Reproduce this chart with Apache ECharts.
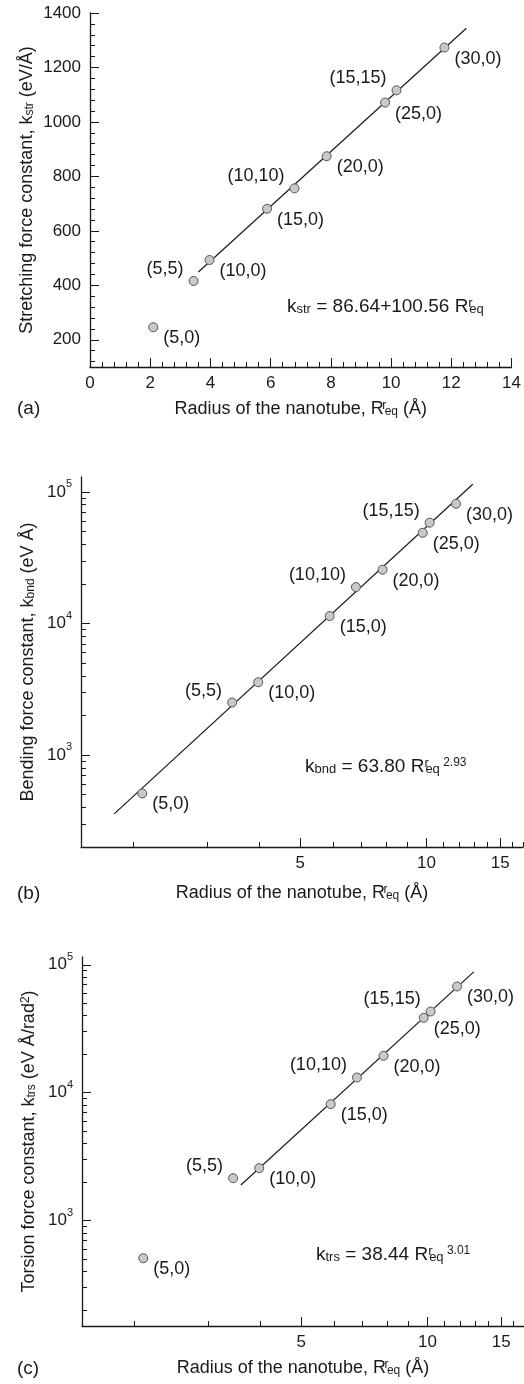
<!DOCTYPE html>
<html>
<head>
<meta charset="utf-8">
<script src="https://cdn.jsdelivr.net/npm/echarts@6/dist/echarts.min.js"></script>
<style>
html, body { margin: 0; padding: 0; background: #fff; }
#main { width: 524px; height: 1384px; }
</style>
</head>
<body>
<div id="main"></div>
<script>
// nanotubes and their radius R_eq (Å)
var tubes = ['(5,0)', '(5,5)', '(10,0)', '(15,0)', '(10,10)', '(20,0)', '(25,0)', '(15,15)', '(30,0)'];
var radius = [2.10, 3.44, 3.97, 5.88, 6.79, 7.86, 9.80, 10.18, 11.77];

// force constants
var kStr = [246, 416, 493, 681, 756, 874, 1071, 1116, 1273];
var kBnd = [511, 2508, 3577, 11400, 18930, 25650, 48980, 58400, 81300];
var kTrs = [508, 2146, 2570, 8137, 13140, 19420, 38500, 43120, 67660];

// fitted lines (end points)
var fitStrX = [3.6, 12.5], fitStrY = [449, 1344];
var fitBndX = [1.8, 12.9], fitBndY = [357, 114400];
var fitTrsX = [3.59, 12.9], fitTrsY = [1900, 88000];

// ticks
var strXTicks = [0, 2, 4, 6, 8, 10, 12, 14];
var strYTicks = [200, 400, 600, 800, 1000, 1200, 1400];
var logXTicks = [5, 10, 15];
var logXMinor = [2, 3, 4, 6, 7, 8, 9, 11, 12, 13, 14, 16, 17];
var logYTicks = [1e3, 1e4, 1e5];

var FONT = 'Liberation Sans';
var INK = '#1a1a1a';

// minor ticks of a linear axis: 5 steps per major step
function linMinor(lo, hi, step) {
  var out = [];
  for (var v = lo; v <= hi + 1e-9; v += step) {
    var r = Math.round(v * 1000) / 1000;
    if (Math.abs(r / (step * 5) - Math.round(r / (step * 5))) > 1e-6) out.push(r);
  }
  return out;
}
// minor ticks of a log axis: 2..9 of each decade
function logMinor(lo, hi) {
  var out = [];
  for (var d = 1e2; d <= 1e5; d *= 10)
    for (var k = 2; k <= 9; k++)
      if (k * d >= lo && k * d <= hi) out.push(k * d);
  return out;
}

var subRich = {
  sub: {fontSize: 12, fontFamily: FONT, color: INK, fill: INK, verticalAlign: 'bottom'},
  sup: {fontSize: 12, fontFamily: FONT, color: INK, fill: INK, verticalAlign: 'top'},
  rs: {fontSize: 12, fontFamily: FONT, color: INK, fill: INK, verticalAlign: 'top', width: 1}
};
var tickRich = {
  m: {fontSize: 17, fontFamily: FONT, color: INK, padding: [5, 0, 5, 0]},
  p: {fontSize: 11, fontFamily: FONT, color: INK, verticalAlign: 'top'}
};

function fmtLin(v) { return String(Math.round(v)); }
function fmtLogX(v) { return String(Math.round(Math.pow(10, v))); }
function fmtLogY(v) { return '{m|10}{p|' + Math.round(v) + '}'; }

// data axis + overlay axes for major and minor ticks
function axes(dim, gi, o) {
  var tf = o.log ? Math.log10 : function (v) { return v; };
  var pos = dim === 'x' ? 'bottom' : 'left';
  var tickLine = {color: INK, width: 1};
  var main = {
    type: o.log ? 'log' : 'value', logBase: 10, gridIndex: gi, position: pos,
    min: o.min, max: o.max,
    axisLine: {show: true, onZero: false, lineStyle: {color: INK, width: 1.3}},
    axisTick: {show: false}, axisLabel: {show: false}, splitLine: {show: false},
    name: o.name, nameLocation: 'middle', nameGap: o.gap,
    nameTextStyle: {fontSize: 18, fontFamily: FONT, color: INK, rich: subRich}
  };
  var major = {
    type: 'value', gridIndex: gi, position: pos, min: tf(o.min), max: tf(o.max),
    axisLine: {show: false, onZero: false},
    axisTick: {show: true, inside: true, length: 9, customValues: o.ticks.map(tf), lineStyle: tickLine},
    axisLabel: {show: true, customValues: o.ticks.map(tf), margin: o.margin, formatter: o.fmt,
      fontSize: 17, fontFamily: FONT, color: INK, rich: tickRich},
    splitLine: {show: false}
  };
  var minor = {
    type: 'value', gridIndex: gi, position: pos, min: tf(o.min), max: tf(o.max),
    axisLine: {show: false, onZero: false},
    axisTick: {show: true, inside: true, length: 5, customValues: o.minor.map(tf), lineStyle: tickLine},
    axisLabel: {show: false}, splitLine: {show: false}
  };
  return [main, major, minor];
}

function pointItems(ys) {
  return tubes.map(function (t, i) {
    var nm = t.replace(/[()]/g, '').split(',');
    var arm = nm[0] === nm[1];
    return {
      name: t, value: [radius[i], ys[i]],
      label: arm ? {position: 'left', offset: [0, -12]} : {position: 'right', offset: [0, 11]}
    };
  });
}
function pair(xs, ys) { return xs.map(function (x, i) { return [x, ys[i]]; }); }

function panelSeries(gi, ys, fx, fy) {
  return [{
    type: 'line', xAxisIndex: gi * 3, yAxisIndex: gi * 3, data: pair(fx, fy),
    symbol: 'none', lineStyle: {color: INK, width: 1.2}, z: 2, silent: true
  }, {
    type: 'scatter', xAxisIndex: gi * 3, yAxisIndex: gi * 3, data: pointItems(ys),
    symbol: 'circle', symbolSize: 9, z: 3,
    itemStyle: {color: '#c9c9c9', borderColor: '#555', borderWidth: 1, opacity: 1},
    label: {show: true, formatter: '{b}', fontSize: 18, fontFamily: FONT, color: INK, distance: 5}
  }];
}

var xName = 'Radius of the nanotube, R{rs|r}{sub|eq} (Å)';

var xAxes = [].concat(
  axes('x', 0, {min: 0, max: 14, ticks: strXTicks, minor: linMinor(0, 14, 0.4), fmt: fmtLin, margin: 8, name: xName, gap: 33}),
  axes('x', 1, {log: true, min: 1.5, max: 17, ticks: logXTicks, minor: logXMinor, fmt: fmtLogX, margin: 8, name: xName, gap: 37}),
  axes('x', 2, {log: true, min: 1.5, max: 17, ticks: logXTicks, minor: logXMinor, fmt: fmtLogX, margin: 8, name: xName, gap: 33})
);
var yAxes = [].concat(
  axes('y', 0, {min: 100, max: 1400, ticks: strYTicks, minor: linMinor(120, 1400, 40), fmt: fmtLin, margin: 9,
    name: 'Stretching force constant, k{sub|str} (eV/Å)', gap: 54}),
  axes('y', 1, {log: true, min: 200, max: 130000, ticks: logYTicks, minor: logMinor(200, 130000), fmt: fmtLogY, margin: 9,
    name: 'Bending force constant, k{sub|bnd} (eV Å)', gap: 44}),
  axes('y', 2, {log: true, min: 150, max: 115000, ticks: logYTicks, minor: logMinor(150, 115000), fmt: fmtLogY, margin: 9,
    name: 'Torsion force constant, k{sub|trs} (eV Å/rad{sup|2})', gap: 44})
);

var eqRich = {
  sub: {fontSize: 13, fontFamily: FONT, fill: INK, verticalAlign: 'bottom'},
  rs: {fontSize: 13, fontFamily: FONT, fill: INK, verticalAlign: 'top', width: 1},
  pw: {fontSize: 12, fontFamily: FONT, fill: INK, verticalAlign: 'top'}
};
function txt(left, top, text, size) {
  return {type: 'text', left: left, top: top,
    style: {text: text, fontSize: size, fontFamily: FONT, fill: INK, rich: eqRich}};
}

var chart = echarts.init(document.getElementById('main'), null, {renderer: 'canvas'});
chart.setOption({
  backgroundColor: '#fff',
  animation: false,
  grid: [
    {left: 90, top: 13, width: 423, height: 354},
    {left: 81, top: 477, width: 442, height: 370},
    {left: 82, top: 957, width: 442, height: 369}
  ],
  xAxis: xAxes,
  yAxis: yAxes,
  series: [].concat(
    panelSeries(0, kStr, fitStrX, fitStrY),
    panelSeries(1, kBnd, fitBndX, fitBndY),
    panelSeries(2, kTrs, fitTrsX, fitTrsY)
  ),
  graphic: [
    txt(17, 399, '(a)', 19),
    txt(17, 884, '(b)', 19),
    txt(17, 1359, '(c)', 19),
    txt(287, 297, 'k{sub|str} = 86.64+100.56 R{rs|r}{sub|eq}', 19),
    txt(305, 757, 'k{sub|bnd} = 63.80 R{rs|r}{sub|eq}{pw| 2.93}', 19),
    txt(316, 1245, 'k{sub|trs} = 38.44 R{rs|r}{sub|eq}{pw| 3.01}', 19)
  ]
});
</script>
</body>
</html>
